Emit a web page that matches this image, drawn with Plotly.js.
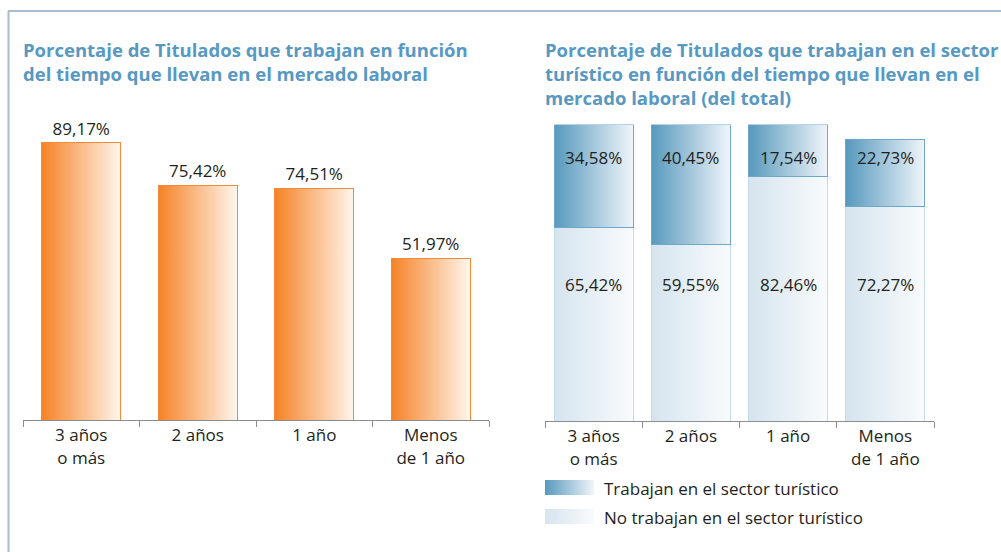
<!DOCTYPE html>
<html>
<head>
<meta charset="utf-8">
<script src="https://cdn.plot.ly/plotly-3.0.1.min.js"></script>
<style>
  html, body { margin: 0; padding: 0; background: #ffffff; }
  #chart { width: 1001px; height: 552px; }
</style>
</head>
<body>
<div id="chart"></div>
<script>
// ---------- data ----------
const categories = ['3 años<br>o más', '2 años', '1 año', 'Menos<br>de 1 año'];
const trabajanPct = [89.17, 75.42, 74.51, 51.97];
const sectorTuristicoPct = [34.58, 40.45, 17.54, 22.73];
const noSectorTuristicoPct = [65.42, 59.55, 82.46, 72.27];
const leftTitle = 'Porcentaje de Titulados que trabajan en función<br>del tiempo que llevan en el mercado laboral';
const rightTitle = 'Porcentaje de Titulados que trabajan en el sector<br>turístico en función del tiempo que llevan en el<br>mercado laboral (del total)';
const legendLabels = ['Trabajan en el sector turístico', 'No trabajan en el sector turístico'];

// ---------- helpers ----------
const W = 1001, H = 552;
const px = v => v / W;
const py = v => 1 - v / H;
const fmt = v => v.toFixed(2).replace('.', ',') + '%';
const FONT = 'Open Sans, DejaVu Sans, sans-serif';
const TXT = '#231f20';
const TITLE_COLOR = '#5799c2';

const traces = [
  {
    type: 'bar', x: categories, y: trabajanPct, xaxis: 'x', yaxis: 'y',
    width: 0.68,
    marker: { color: '#f7a15c', line: { color: '#f28a3c', width: 1 } },
    text: trabajanPct.map(fmt), textposition: 'outside',
    textfont: { family: FONT, size: 17, color: TXT },
    cliponaxis: false, hoverinfo: 'none', name: 'Trabajan'
  },
  {
    type: 'bar', x: categories, y: noSectorTuristicoPct, xaxis: 'x2', yaxis: 'y2',
    width: 0.81,
    marker: { color: '#e6eff6', line: { color: '#c6dbe9', width: 1 } },
    hoverinfo: 'none', name: legendLabels[1]
  },
  {
    type: 'bar', x: categories, y: sectorTuristicoPct, xaxis: 'x2', yaxis: 'y2',
    width: 0.81,
    marker: { color: '#9cc3da', line: { color: '#6fa7c7', width: 1 } },
    hoverinfo: 'none', name: legendLabels[0]
  }
];

const annotations = [
  { xref: 'paper', yref: 'paper', x: px(21), y: py(35), xanchor: 'left', yanchor: 'top', align: 'left',
    showarrow: false, text: '<b>' + leftTitle + '</b>', font: { family: FONT, size: 18.5, color: TITLE_COLOR } },
  { xref: 'paper', yref: 'paper', x: px(543), y: py(35), xanchor: 'left', yanchor: 'top', align: 'left',
    showarrow: false, text: '<b>' + rightTitle + '</b>', font: { family: FONT, size: 18.5, color: TITLE_COLOR } }
];
categories.forEach((c, i) => {
  annotations.push({ xref: 'x2', yref: 'y2', x: c, y: 89, showarrow: false,
    text: fmt(sectorTuristicoPct[i]), font: { family: FONT, size: 17, color: TXT } });
  annotations.push({ xref: 'x2', yref: 'y2', x: c, y: 46.2, showarrow: false,
    text: fmt(noSectorTuristicoPct[i]), font: { family: FONT, size: 17, color: TXT } });
});
legendLabels.forEach((t, i) => {
  annotations.push({ xref: 'paper', yref: 'paper', x: px(602), y: py(488 + i * 29), xanchor: 'left', yanchor: 'middle',
    showarrow: false, text: t, font: { family: FONT, size: 17, color: TXT } });
});

const shapes = [
  // frame
  { type: 'line', xref: 'paper', yref: 'paper', x0: px(8), x1: 1, y0: py(11), y1: py(11), line: { color: '#8aa7c3', width: 1.5 } },
  { type: 'line', xref: 'paper', yref: 'paper', x0: px(8.5), x1: px(8.5), y0: py(11), y1: 0, line: { color: '#a7bdca', width: 2 } },
  // legend swatches
  { type: 'rect', xref: 'paper', yref: 'paper', x0: px(545), x1: px(594), y0: py(495), y1: py(480), fillcolor: '#9cc3da', line: { width: 0 } },
  { type: 'rect', xref: 'paper', yref: 'paper', x0: px(545), x1: px(594), y0: py(524), y1: py(509), fillcolor: '#e6eff6', line: { width: 0 } }
];

const axisCommon = {
  type: 'category', showline: true, linecolor: '#8c8c8c', linewidth: 1,
  ticks: 'outside', tickson: 'boundaries', ticklen: 6, tickcolor: '#8c8c8c', tickwidth: 1,
  showgrid: false, zeroline: false, fixedrange: true,
  tickfont: { family: FONT, size: 17, color: TXT }
};

const layout = {
  width: W, height: H,
  margin: { l: 0, r: 0, t: 0, b: 0, pad: 0 },
  paper_bgcolor: '#ffffff', plot_bgcolor: 'rgba(0,0,0,0)',
  showlegend: false, barmode: 'stack',
  xaxis: Object.assign({}, axisCommon, { domain: [px(23), px(489)], anchor: 'y' }),
  yaxis: { domain: [py(420), py(109)], range: [0, 100], visible: false, fixedrange: true, anchor: 'x' },
  xaxis2: Object.assign({}, axisCommon, { domain: [px(545), px(934)], anchor: 'y2' }),
  yaxis2: { domain: [py(421), py(124.5)], range: [0, 100], visible: false, fixedrange: true, anchor: 'x2' },
  annotations: annotations,
  shapes: shapes
};

function addGradients(gd) {
  const svg = gd.querySelector('svg.main-svg');
  const ns = 'http://www.w3.org/2000/svg';
  let defs = svg.querySelector('defs');
  if (!defs) { defs = document.createElementNS(ns, 'defs'); svg.insertBefore(defs, svg.firstChild); }
  const grads = {
    gOrange: [['0', '#f58225'], ['1', '#fff6ee']],
    gBlue: [['0', '#5799bd'], ['1', '#f0f5fa']],
    gLight: [['0', '#d5e4ee'], ['1', '#f9fbfd']]
  };
  Object.keys(grads).forEach(id => {
    const lg = document.createElementNS(ns, 'linearGradient');
    lg.setAttribute('id', id);
    lg.setAttribute('x1', '0'); lg.setAttribute('x2', '1');
    lg.setAttribute('y1', '0'); lg.setAttribute('y2', '0');
    grads[id].forEach(([o, c]) => {
      const s = document.createElementNS(ns, 'stop');
      s.setAttribute('offset', o); s.setAttribute('stop-color', c);
      lg.appendChild(s);
    });
    defs.appendChild(lg);
  });
  const traceGroups = gd.querySelectorAll('.barlayer .trace');
  const map = ['gOrange', 'gLight', 'gBlue'];
  traceGroups.forEach((tg, i) => {
    tg.querySelectorAll('.point path').forEach(p => { p.style.fill = 'url(#' + map[i] + ')'; });
  });
  const shapePaths = gd.querySelectorAll('.shapelayer path');
  if (shapePaths.length >= 4) {
    shapePaths[2].style.fill = 'url(#gBlue)';
    shapePaths[3].style.fill = 'url(#gLight)';
  }
}

const gd = document.getElementById('chart');
Plotly.newPlot(gd, traces, layout, { staticPlot: true, displayModeBar: false }).then(addGradients);
</script>
</body>
</html>
